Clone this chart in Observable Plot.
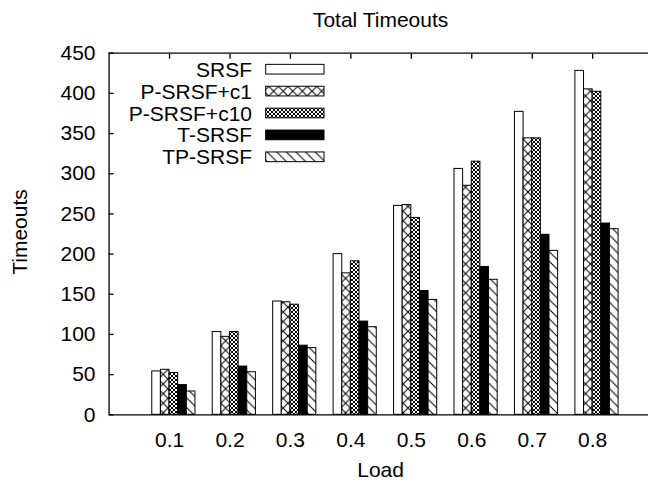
<!DOCTYPE html>
<html><head><meta charset="utf-8">
<script src="https://cdn.jsdelivr.net/npm/d3@7"></script>
<script src="https://cdn.jsdelivr.net/npm/@observablehq/plot@0.6"></script>
<style>html,body{margin:0;padding:0;background:#fff;overflow:hidden}</style>
</head><body><div id="chart"></div>
<script>
const title = "Total Timeouts";
const xLabel = "Load";
const yLabel = "Timeouts";
const loads = [0.1, 0.2, 0.3, 0.4, 0.5, 0.6, 0.7, 0.8];
const seriesNames = ["SRSF", "P-SRSF+c1", "P-SRSF+c10", "T-SRSF", "TP-SRSF"];
const srsf     = [54, 103, 141, 200, 260, 306, 377, 428];
const psrsfC1  = [56, 97, 140, 176, 261, 285, 344, 405];
const psrsfC10 = [52, 103, 137, 191, 245, 315, 344, 402];
const tsrsf    = [37, 60, 86, 116, 154, 184, 224, 238];
const tpsrsf   = [29, 53, 83, 109, 143, 168, 204, 231];
const yTicks = [0, 50, 100, 150, 200, 250, 300, 350, 400, 450];
const xTicks = [0.1, 0.2, 0.3, 0.4, 0.5, 0.6, 0.7, 0.8];

const seriesValues = [srsf, psrsfC1, psrsfC10, tsrsf, tpsrsf];
const fills = ["white", "url(#pCross)", "url(#pDense)", "black", "url(#pHatch)"];
const FONT = "'Liberation Sans', Arial, Helvetica, sans-serif";
const FS = 21;

const W = 648, H = 483;
const mL = 108.6, mR = -4.6, mT = 52.7, mB = 68.7;
const step = 0.1;
const bw = step / 7;

const rows = seriesValues.map((vals, k) => loads.map((l, i) => ({load: l, value: vals[i], k})));

const barMarks = rows.map((data, k) => Plot.rectY(data, {
  x1: d => d.load + (d.k - 2) * bw,
  x2: d => d.load + (d.k - 1) * bw,
  y1: 0, y2: "value",
  fill: fills[k], stroke: "black", strokeWidth: 1
}));

const svg = Plot.plot({
  width: W, height: H,
  marginLeft: mL, marginRight: mR, marginTop: mT, marginBottom: mB,
  style: {fontFamily: FONT, fontSize: FS + "px", color: "black", background: "white", overflow: "hidden"},
  x: {domain: [0, 0.9], range: [mL, W - mR]},
  y: {domain: [0, 450], range: [H - mB, mT]},
  marks: [
    ...barMarks,
    Plot.ruleY([0, 450], {stroke: "black", strokeWidth: 1.3}),
    Plot.ruleX([0, 0.9], {stroke: "black", strokeWidth: 1.3}),
    Plot.axisY({ticks: yTicks, anchor: "left", tickSize: -5, tickPadding: 18.6, label: null, strokeWidth: 1.3}),
    Plot.axisX({ticks: xTicks, anchor: "bottom", tickSize: -5, tickPadding: 22.4, tickFormat: d3.format(".1f"), label: null, strokeWidth: 1.3}),
    Plot.axisX({ticks: xTicks, anchor: "top", tickSize: -5, tickFormat: () => "", label: null, strokeWidth: 1.3})
  ]
});

const s = d3.select(svg);
s.insert("defs", ":first-child").html(`
  <pattern id="pCross" patternUnits="userSpaceOnUse" width="9.6" height="9.6">
    <rect width="9.6" height="9.6" fill="white"/>
    <path d="M0,0L9.6,9.6M9.6,0L0,9.6" stroke="black" stroke-width="1"/>
  </pattern>
  <pattern id="pDense" patternUnits="userSpaceOnUse" width="4" height="4">
    <rect width="4" height="4" fill="white"/>
    <path d="M0,0L4,4M4,0L0,4" stroke="black" stroke-width="1"/>
  </pattern>
  <pattern id="pHatch" patternUnits="userSpaceOnUse" width="9.6" height="9.6">
    <rect width="9.6" height="9.6" fill="white"/>
    <path d="M0,0L9.6,9.6M-2,7.6L2,11.6M7.6,-2L11.6,2" stroke="black" stroke-width="1"/>
  </pattern>`);

const txt = (x, y, t, anchor) => s.append("text").attr("x", x).attr("y", y)
  .attr("text-anchor", anchor).attr("font-family", FONT).attr("font-size", FS).attr("fill", "black").text(t);

txt(380.6, 26.7, title, "middle");
txt(380.6, 476.7, xLabel, "middle");
s.append("text").attr("transform", "translate(26.7,232) rotate(-90)")
  .attr("text-anchor", "middle").attr("font-family", FONT).attr("font-size", FS).attr("fill", "black").text(yLabel);

const lg = s.append("g");
seriesNames.forEach((name, i) => {
  const cy = 69.2 + i * 21.9;
  lg.append("text").attr("x", 252).attr("y", cy).attr("dy", "0.36em")
    .attr("text-anchor", "end").attr("font-family", FONT).attr("font-size", FS).attr("fill", "black").text(name);
  lg.append("rect").attr("x", 265.7).attr("y", cy - 4.85).attr("width", 58.3).attr("height", 9.7)
    .attr("fill", fills[i]).attr("stroke", "black").attr("stroke-width", 1);
});

document.getElementById("chart").appendChild(svg);
</script>
</body></html>
